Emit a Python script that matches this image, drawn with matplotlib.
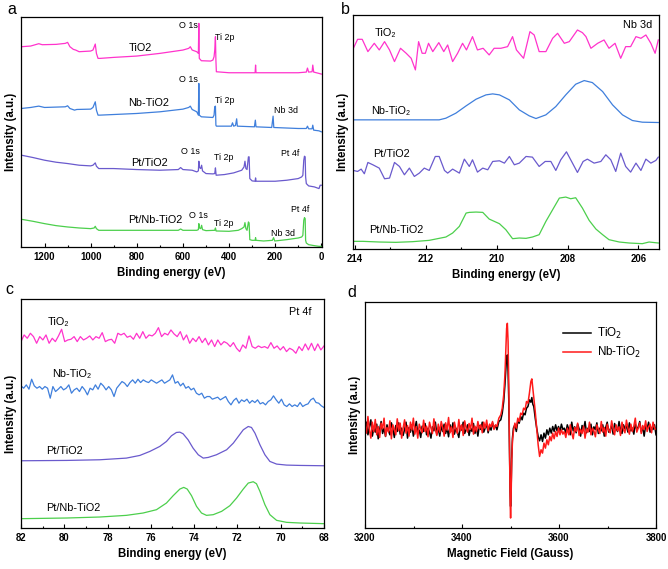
import numpy as np
import matplotlib
matplotlib.use('Agg')
import matplotlib.pyplot as plt
from matplotlib.ticker import MultipleLocator

plt.rcParams['font.family'] = ['Liberation Sans', 'DejaVu Sans']

# ---- colours
c_tio2 = '#ff33cc'
c_nb = '#3f7fdc'
c_pt = '#6a5acd'
c_ptnb = '#4ccf4c'

# ---- panel a : XPS survey (binding energy eV, intensity a.u.)
a_tio2_e = [1300, 1260, 1225, 1210, 1150, 1110, 1100, 1090, 1075, 1065, 1050, 1000, 990, 980, 975, 968, 960, 900,
            800, 700, 600, 575, 568, 560, 540, 533, 531, 529, 520, 480, 470, 465, 462, 459, 457, 455, 400, 287,
            285, 283, 200, 100, 65, 60, 55, 40, 37, 33, 10, 0]
a_tio2_i = [600, 602, 609, 606, 607, 610, 613, 600, 592, 590, 585, 587, 590, 608, 580, 565, 565, 568,
            572, 580, 590, 595, 600, 590, 585, 580, 670, 565, 558, 557, 560, 570, 590, 630, 560, 525, 522, 522,
            545, 522, 522, 522, 524, 536, 524, 525, 545, 524, 520, 518]

a_nb_e = [1300, 1260, 1225, 1200, 1110, 1100, 1090, 1070, 1060, 1000, 990, 980, 975, 968, 960, 800, 700, 600,
          575, 568, 560, 540, 533, 531, 529, 520, 470, 465, 462, 459, 457, 455, 390, 385, 380, 372, 367, 364,
          290, 286, 283, 215, 209, 206, 100, 65, 60, 55, 40, 37, 33, 10, 0]
a_nb_i = [415, 418, 422, 418, 420, 423, 415, 410, 412, 413, 418, 435, 410, 395, 395, 400, 405, 413,
          418, 422, 412, 405, 395, 490, 395, 390, 388, 395, 420, 422, 365, 362, 362, 372, 362, 364, 384, 362,
          360, 380, 360, 358, 392, 358, 355, 355, 362, 354, 354, 365, 350, 348, 345]

a_pt_e = [1300, 1250, 1200, 1150, 1100, 1050, 1000, 990, 980, 975, 965, 900, 800, 700, 620, 610, 600, 560, 540,
          533, 531, 528, 523, 519, 515, 500, 470, 462, 459, 456, 420, 380, 345, 335, 331, 327, 322, 316, 313,
          310, 300, 287, 285, 283, 200, 150, 100, 85, 80, 76, 73, 70, 68, 65, 55, 30, 10, 5, 0]
a_pt_i = [275, 268, 260, 254, 250, 245, 243, 245, 252, 242, 235, 235, 232, 230, 232, 238, 232, 230, 225,
          228, 257, 238, 235, 245, 228, 220, 219, 220, 237, 215, 217, 222, 230, 240, 257, 235, 232, 270, 270,
          205, 198, 197, 207, 197, 197, 200, 205, 210, 215, 260, 272, 270, 210, 190, 183, 180, 175, 185, 185]

a_ptnb_e = [1300, 1250, 1200, 1150, 1100, 1050, 1000, 985, 980, 975, 965, 800, 620, 610, 600, 540, 533, 531,
            528, 523, 519, 515, 500, 462, 459, 456, 400, 360, 345, 335, 331, 327, 322, 316, 313, 310, 300,
            287, 285, 283, 250, 212, 207, 202, 150, 100, 85, 80, 76, 73, 70, 68, 65, 55, 30, 10, 0]
a_ptnb_i = [83, 77, 70, 64, 60, 57, 55, 57, 62, 55, 50, 50, 50, 54, 50, 50, 52, 70,
            57, 55, 65, 52, 49, 50, 57, 48, 47, 50, 55, 60, 73, 55, 50, 75, 72, 22, 20,
            20, 28, 20, 18, 20, 28, 18, 22, 27, 30, 35, 80, 88, 85, 20, 12, 7, 4, 2, 2]

a_labels = ['TiO2', 'Nb-TiO2', 'Pt/TiO2', 'Pt/Nb-TiO2']
a_label_pos = [(786, 595), (750, 432), (745, 252), (721, 82)]
a_peak_txt = ['O 1s', 'Ti 2p', 'O 1s', 'Ti 2p', 'Nb 3d', 'O 1s', 'Ti 2p', 'Pt 4f', 'O 1s', 'Ti 2p', 'Nb 3d', 'Pt 4f']
a_peak_pos = [(575, 665), (418, 628), (575, 502), (418, 440), (153, 410), (568, 285), (425, 268), (133, 280),
              (532, 95), (422, 70), (165, 40), (90, 112)]

# ---- panel b : Nb 3d
b_tio2_e = [214.04, 213.92, 213.79, 213.63, 213.45, 213.31, 213.16, 213.02, 212.88, 212.71, 212.55, 212.41,
            212.29, 212.20, 212.10, 212.01, 211.92, 211.80, 211.63, 211.49, 211.38, 211.24, 211.10, 210.96,
            210.85, 210.68, 210.54, 210.38, 210.21, 210.07, 209.88, 209.69, 209.55, 209.44, 209.24, 209.06,
            208.94, 208.80, 208.61, 208.42, 208.28, 208.09, 207.95, 207.72, 207.58, 207.48, 207.34, 207.15,
            206.97, 206.83, 206.66, 206.50, 206.36, 206.22, 206.07, 205.93, 205.79, 205.65, 205.53, 205.44]
b_tio2_i = [603, 630, 630, 593, 618, 598, 623, 598, 563, 603, 588, 573, 538, 623, 588, 588, 618, 593, 620, 593,
            613, 563, 588, 618, 598, 638, 598, 603, 583, 603, 603, 608, 638, 598, 573, 653, 643, 593, 593, 633,
            648, 618, 623, 658, 650, 638, 603, 618, 628, 603, 618, 573, 608, 608, 638, 633, 643, 618, 588, 628]

b_nb_e = [214.04, 211.62, 211.43, 211.15, 210.86, 210.58, 210.30, 210.11, 209.92, 209.64, 209.36, 209.08, 208.89,
          208.61, 208.33, 208.05, 207.77, 207.53, 207.30, 207.01, 206.73, 206.45, 206.17, 205.89, 205.44]
b_nb_i = [388, 388, 393, 408, 430, 450, 463, 466, 463, 448, 418, 400, 392, 403, 428, 463, 495, 506, 500, 473,
          433, 403, 386, 381, 380]

b_pt_e = [214.04, 213.92, 213.82, 213.73, 213.63, 213.49, 213.31, 213.16, 213.02, 212.88, 212.74, 212.60,
          212.46, 212.32, 212.18, 212.04, 211.90, 211.73, 211.62, 211.47, 211.38, 211.24, 211.05, 210.91,
          210.77, 210.68, 210.54, 210.39, 210.25, 210.11, 209.92, 209.78, 209.64, 209.50, 209.36, 209.17,
          208.99, 208.80, 208.63, 208.47, 208.33, 208.19, 208.03, 207.86, 207.72, 207.56, 207.44, 207.25,
          207.06, 206.92, 206.78, 206.64, 206.50, 206.36, 206.22, 206.07, 205.93, 205.79, 205.65, 205.51, 205.44]
b_pt_i = [236, 233, 240, 226, 260, 253, 243, 211, 213, 260, 248, 223, 243, 218, 228, 243, 236, 278, 278, 236,
          228, 240, 228, 270, 248, 268, 231, 243, 238, 263, 265, 258, 278, 253, 258, 278, 276, 248, 263, 263,
          236, 268, 292, 258, 230, 263, 270, 258, 263, 283, 268, 233, 288, 248, 231, 258, 236, 270, 258, 266, 276]

b_ptnb_e = [214.04, 213.77, 213.31, 212.84, 212.37, 211.90, 211.62, 211.43, 211.24, 211.05, 210.86, 210.77,
            210.58, 210.39, 210.21, 209.92, 209.74, 209.55, 209.36, 209.17, 208.99, 208.80, 208.61, 208.42,
            208.23, 208.05, 207.91, 207.77, 207.58, 207.39, 207.20, 207.01, 206.83, 206.54, 206.26, 205.89,
            205.70, 205.44]
b_ptnb_i = [23, 23, 21, 20, 22, 26, 32, 36, 48, 68, 108, 110, 111, 110, 90, 76, 58, 31, 33, 32, 36, 43, 83, 118,
            153, 156, 151, 154, 123, 86, 60, 43, 28, 21, 18, 16, 21, 18]

# ---- panel c : Pt 4f
c_tio2_i = [560, 580, 570, 585, 575, 555, 575, 565, 580, 555, 570, 560, 577, 597, 560, 565, 567, 575, 560, 575,
            565, 570, 577, 565, 575, 570, 587, 560, 565, 567, 555, 585, 580, 585, 573, 577, 567, 585, 570, 590,
            570, 580, 577, 585, 602, 575, 585, 580, 595, 583, 575, 590, 565, 580, 555, 570, 560, 575, 557, 570,
            550, 565, 545, 565, 550, 560, 555, 545, 557, 540, 530, 550, 540, 577, 545, 540, 547, 542, 545, 540,
            557, 540, 547, 535, 545, 530, 540, 535, 525, 545, 533, 553, 535, 555, 533, 553, 535, 547]
c_nb_i = [427, 420, 430, 417, 447, 427, 420, 425, 417, 425, 420, 390, 425, 410, 417, 425, 415, 420, 430, 405,
          415, 420, 410, 425, 415, 400, 420, 415, 430, 417, 435, 427, 415, 425, 415, 395, 420, 430, 440, 435,
          425, 437, 445, 435, 447, 437, 445, 440, 437, 445, 440, 435, 440, 445, 435, 440, 445, 460, 435, 440,
          427, 435, 420, 425, 415, 420, 405, 400, 405, 390, 395, 395, 387, 390, 393, 385, 390, 395, 380, 370,
          383, 390, 375, 385, 380, 387, 375, 383, 377, 385, 373, 377, 370, 380, 385, 397, 385, 375, 387, 370,
          365, 373, 365, 370, 365, 377, 365, 370, 373, 385, 390, 377, 375, 367, 362]

c_pt_e = [82.00, 79.90, 78.36, 77.13, 76.51, 76.05, 75.59, 75.28, 75.05, 74.82, 74.66, 74.51, 74.28, 74.05, 73.81,
          73.58, 73.35, 72.97, 72.50, 72.19, 71.96, 71.73, 71.50, 71.35, 71.19, 70.96, 70.73, 70.50, 70.19,
          69.73, 69.11, 68.00]
c_pt_i = [202, 203, 205, 210, 218, 230, 245, 260, 277, 287, 288, 283, 265, 240, 220, 210, 212, 220, 235, 255,
          275, 295, 305, 302, 285, 250, 220, 200, 192, 189, 188, 187]

c_ptnb_e = [82.00, 79.90, 78.36, 77.13, 76.36, 75.74, 75.28, 74.97, 74.66, 74.48, 74.32, 74.12, 73.89, 73.66,
            73.43, 73.12, 72.73, 72.35, 72.04, 71.73, 71.50, 71.27, 71.12, 70.96, 70.73, 70.50, 70.19, 69.73,
            69.11, 68.00]
c_ptnb_i = [28, 30, 33, 38, 45, 55, 75, 97, 117, 122, 117, 97, 65, 45, 38, 40, 50, 67, 90, 117, 135, 139, 133,
            110, 70, 40, 23, 17, 15, 13]

# ---- panel d : EPR (field in Gauss)
d_feat_g = [3472, 3476, 3480, 3483, 3486, 3488.5, 3490.5, 3492, 3493.5, 3495, 3496.5, 3498, 3499.2, 3500.2,
            3501.2, 3502.5, 3504, 3506, 3509, 3512, 3515, 3518, 3521, 3524, 3527, 3530, 3533, 3536, 3539, 3542,
            3544, 3546, 3548, 3551, 3554, 3557, 3560, 3563, 3566, 3569, 3572, 3575, 3578, 3581, 3584, 3587, 3590,
            3593, 3596, 3599, 3602, 3605, 3608]
d_red_feat = [305, 330, 340, 360, 400, 460, 540, 600, 615, 560, 430, 230, 80, 30, 90, 200, 260, 290, 315, 300,
              330, 320, 345, 340, 360, 355, 380, 375, 405, 440, 448, 420, 395, 350, 300, 250, 215, 235, 225, 255,
              240, 265, 250, 275, 262, 285, 268, 290, 275, 300, 280, 295, 282]
d_blk_feat = [295, 320, 325, 345, 380, 430, 480, 515, 520, 470, 380, 240, 110, 65, 110, 210, 270, 300, 310, 290,
              320, 315, 335, 325, 345, 340, 360, 365, 385, 378, 392, 372, 365, 330, 300, 275, 262, 280, 260, 285,
              270, 295, 280, 300, 285, 305, 290, 310, 292, 305, 290, 312, 296]
d_red_left = [310, 285, 335, 295, 270, 318, 290, 326, 280, 305, 272, 315, 298, 330, 276, 302, 288, 322, 268, 310,
              296, 280, 328, 292, 315, 270, 300, 325, 285, 308, 276, 318, 295, 330, 282, 305, 270, 312, 298, 286,
              324, 290, 306, 274, 318, 300, 284, 328, 296, 278, 312, 288, 320, 302, 276, 316, 294, 332, 286, 304,
              272, 318, 298, 284, 326, 292, 310, 278, 322, 300, 288, 314, 296, 330, 282, 306, 290, 320, 298, 310,
              286, 318, 300, 324, 292, 312, 304, 320, 296, 310]
d_blk_left = [290, 318, 280, 305, 325, 276, 300, 288, 312, 268, 296, 320, 284, 300, 275, 310, 292, 280, 316, 298,
              272, 308, 290, 316, 282, 300, 278, 296, 318, 270, 302, 288, 310, 276, 298, 320, 284, 294, 272, 306,
              290, 314, 280, 300, 288, 270, 304, 292, 318, 282, 298, 276, 306, 290, 312, 284, 300, 274, 310, 292,
              316, 282, 300, 288, 272, 306, 294, 318, 284, 296, 310, 278, 300, 290, 314, 284, 302, 276, 308, 296,
              318, 288, 300, 312, 286, 304, 294, 316, 300, 308]
d_red_right = [290, 272, 300, 280, 310, 286, 268, 302, 290, 315, 278, 296, 284, 306, 270, 298, 288, 318, 280, 300,
               292, 274, 310, 296, 284, 320, 288, 302, 276, 312, 294, 286, 322, 298, 280, 310, 292, 304, 278, 318,
               296, 286, 324, 300, 282, 312, 290, 306, 330, 288, 300, 316, 284, 308, 296, 322, 290, 304, 312, 286,
               318, 300, 296]
d_blk_right = [300, 285, 310, 296, 280, 318, 292, 304, 286, 312, 298, 276, 308, 294, 320, 286, 300, 290, 312, 280,
               304, 296, 316, 284, 300, 292, 310, 276, 302, 318, 288, 296, 308, 282, 314, 300, 290, 320, 294, 284,
               310, 298, 306, 288, 316, 292, 300, 282, 312, 296, 304, 320, 290, 300, 276, 310, 298, 318, 288, 302,
               296, 310, 280]

W, H = 668, 569
fs_name = 7.8
fs_peak = 6.4


def rect(l, t, r, b):
    return [l / W, 1 - b / H, (r - l) / W, (b - t) / H]


def style(ax, major, minor, xlabel):
    ax.set_yticks([])
    ax.xaxis.set_major_locator(MultipleLocator(major))
    ax.xaxis.set_minor_locator(MultipleLocator(minor))
    ax.tick_params(axis='x', which='major', direction='in', length=3, width=0.8, pad=3.5, labelsize=6.9)
    ax.tick_params(axis='x', which='minor', direction='in', length=1.8, width=0.8)
    for lab in ax.get_xticklabels():
        lab.set_fontweight('bold')
    for s in ax.spines.values():
        s.set_linewidth(0.9)
    ax.set_xlabel(xlabel, fontsize=8.3, fontweight='bold', labelpad=3.5)
    ax.set_ylabel('Intensity (a.u.)', fontsize=8.3, fontweight='bold', labelpad=3)


fig = plt.figure(figsize=(6.68, 5.69), dpi=100)

# a
ax = fig.add_axes(rect(21, 17, 322, 247))
lw = 0.9
ax.plot(a_tio2_e, a_tio2_i, color=c_tio2, lw=lw)
ax.plot(a_nb_e, a_nb_i, color=c_nb, lw=lw)
ax.plot(a_pt_e, a_pt_i, color=c_pt, lw=lw)
ax.plot(a_ptnb_e, a_ptnb_i, color=c_ptnb, lw=lw)
ax.set_xlim(1302, -3)
ax.set_ylim(0, 689)
for t, (x, y) in zip(a_labels, a_label_pos):
    ax.text(x, y, t, fontsize=fs_name, ha='center', va='center')
for t, (x, y) in zip(a_peak_txt, a_peak_pos):
    ax.text(x, y, t, fontsize=fs_peak, ha='center', va='center')
style(ax, 200, 100, 'Binding energy (eV)')

# b
ax = fig.add_axes(rect(353, 15, 659, 249))
ax.plot(b_tio2_e, b_tio2_i, color=c_tio2, lw=lw)
ax.plot(b_nb_e, b_nb_i, color=c_nb, lw=lw)
ax.plot(b_pt_e, b_pt_i, color=c_pt, lw=lw)
ax.plot(b_ptnb_e, b_ptnb_i, color=c_ptnb, lw=lw)
ax.set_xlim(214.05, 205.42)
ax.set_ylim(0, 703)
ax.text(213.14, 648, 'TiO₂', fontsize=fs_name, ha='center', va='center')
ax.text(205.62, 673, 'Nb 3d', fontsize=fs_name, ha='right', va='center')
ax.text(212.98, 415, 'Nb-TiO₂', fontsize=fs_name, ha='center', va='center')
ax.text(212.98, 286, 'Pt/TiO2', fontsize=fs_name, ha='center', va='center')
ax.text(212.84, 58, 'Pt/Nb-TiO2', fontsize=fs_name, ha='center', va='center')
style(ax, 2, 1, 'Binding energy (eV)')

# c
ax = fig.add_axes(rect(21, 299, 324, 528))
ax.plot(np.linspace(82, 68, len(c_tio2_i)), c_tio2_i, color=c_tio2, lw=lw)
ax.plot(np.linspace(82, 68, len(c_nb_i)), c_nb_i, color=c_nb, lw=lw)
ax.plot(c_pt_e, c_pt_i, color=c_pt, lw=lw)
ax.plot(c_ptnb_e, c_ptnb_i, color=c_ptnb, lw=lw)
ax.set_xlim(82, 68)
ax.set_ylim(0, 688)
ax.text(68.57, 650, 'Pt 4f', fontsize=fs_name, ha='right', va='center')
ax.text(80.29, 620, 'TiO₂', fontsize=fs_name, ha='center', va='center')
ax.text(79.67, 462, 'Nb-TiO₂', fontsize=fs_name, ha='center', va='center')
ax.text(79.98, 230, 'Pt/TiO2', fontsize=fs_name, ha='center', va='center')
ax.text(79.59, 60, 'Pt/Nb-TiO2', fontsize=fs_name, ha='center', va='center')
style(ax, 2, 1, 'Binding energy (eV)')

# d
ax = fig.add_axes(rect(365, 302, 656, 528))
d_x = np.concatenate([np.linspace(3200, 3469, len(d_blk_left)), d_feat_g,
                      np.linspace(3611, 3800, len(d_blk_right))])
ax.plot(d_x, d_blk_left + d_blk_feat + d_blk_right, color='black', lw=1.1, label='TiO$_2$')
ax.plot(d_x, d_red_left + d_red_feat + d_red_right, color='#ff1a1a', lw=1.1, label='Nb-TiO$_2$')
ax.set_xlim(3200, 3800)
ax.set_ylim(0, 679)
ax.legend(loc='upper right', bbox_to_anchor=(0.985, 0.94), frameon=False, fontsize=8.4,
          handlelength=2.4, handletextpad=0.5, labelspacing=0.35)
style(ax, 200, 100, 'Magnetic Field (Gauss)')

fig.text(7 / W, 1 - 10 / H, 'a', fontsize=11.5, ha='left', va='center')
fig.text(341 / W, 1 - 9 / H, 'b', fontsize=11.5, ha='left', va='center')
fig.text(5 / W, 1 - 289 / H, 'c', fontsize=11.5, ha='left', va='center')
fig.text(347 / W, 1 - 293 / H, 'd', fontsize=11.5, ha='left', va='center')

fig.savefig('out.png', dpi=100)
